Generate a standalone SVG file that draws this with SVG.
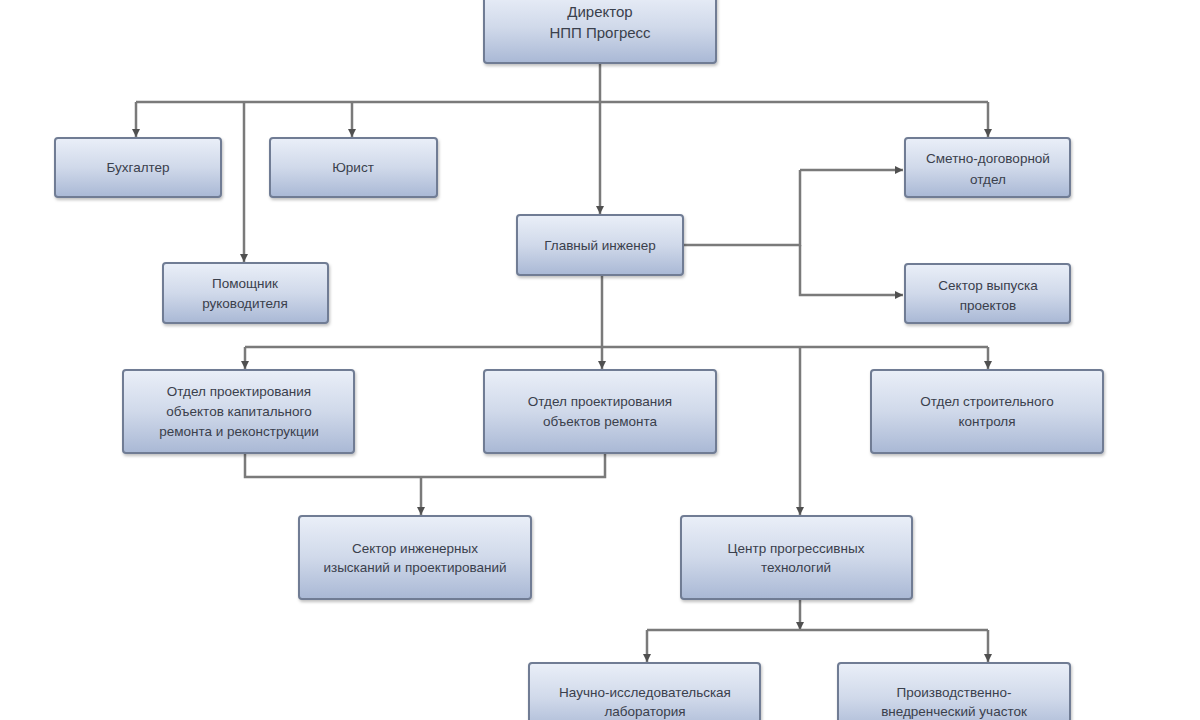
<svg xmlns="http://www.w3.org/2000/svg" width="1200" height="720" viewBox="0 0 1200 720">
<defs>
<linearGradient id="g" x1="0" y1="0" x2="0" y2="1">
<stop offset="0" stop-color="#eaeff8"/>
<stop offset="0.5" stop-color="#d0d9ea"/>
<stop offset="1" stop-color="#a9b8d5"/>
</linearGradient>
<filter id="sh" x="-10%" y="-10%" width="120%" height="130%">
<feDropShadow dx="1" dy="2" stdDeviation="1.5" flood-color="#000" flood-opacity="0.25"/>
</filter>
<marker id="ar" viewBox="0 0 10 10" refX="10" refY="5" markerWidth="8" markerHeight="8" markerUnits="userSpaceOnUse" orient="auto">
<path d="M0,0 L10,5 L0,10 z" fill="#505050"/>
</marker>
</defs>
<style>
.box{fill:url(#g);stroke:#6f7c94;stroke-width:2;filter:url(#sh)}
.t{font-family:"Liberation Sans",Arial,sans-serif;font-size:13.5px;fill:#3a404c;text-anchor:middle}
.big{font-size:15px}
.c{fill:none;stroke:#7a7a7a;stroke-width:2.5}
.a{marker-end:url(#ar)}
</style>
<rect width="1200" height="720" fill="#fff"/>
<g id="connectors">
<path class="c" d="M600,63 V102"/>
<path class="c" d="M136,102 H988"/>
<path class="c a" d="M136,102 V137"/>
<path class="c a" d="M352,102 V137"/>
<path class="c a" d="M988,102 V137"/>
<path class="c a" d="M244,102 V262"/>
<path class="c a" d="M600,102 V214"/>
<path class="c" d="M683,245 H800 V170"/>
<path class="c a" d="M800,170 H903"/>
<path class="c a" d="M800,245 V295 H903"/>
<path class="c" d="M602,275 V347"/>
<path class="c" d="M245,347 H988"/>
<path class="c a" d="M245,347 V369"/>
<path class="c a" d="M602,347 V369"/>
<path class="c a" d="M988,347 V369"/>
<path class="c a" d="M800,347 V515"/>
<path class="c" d="M245,453 V477 H605 V453"/>
<path class="c a" d="M421,477 V515"/>
<path class="c a" d="M800,599 V630"/>
<path class="c" d="M647,630 H988"/>
<path class="c a" d="M647,630 V662"/>
<path class="c a" d="M988,630 V662"/>
</g>
<g id="director"><rect class="box" x="484" y="-8" width="232" height="71" rx="3"/><text class="t big" x="600" y="17">Директор</text><text class="t big" x="600" y="38">НПП Прогресс</text></g>
<g id="buhgalter"><rect class="box" x="55" y="138" width="166" height="59" rx="3"/><text class="t" x="138" y="172">Бухгалтер</text></g>
<g id="yurist"><rect class="box" x="270" y="138" width="167" height="59" rx="3"/><text class="t" x="353" y="172">Юрист</text></g>
<g id="smetno"><rect class="box" x="905" y="138" width="165" height="59" rx="3"/><text class="t" x="988" y="163">Сметно-договорной</text><text class="t" x="988" y="184">отдел</text></g>
<g id="glavniy"><rect class="box" x="517" y="215" width="166" height="60" rx="3"/><text class="t" x="600" y="250">Главный инженер</text></g>
<g id="pomoshnik"><rect class="box" x="163" y="263" width="165" height="60" rx="3"/><text class="t" x="245" y="288">Помощник</text><text class="t" x="245" y="308">руководителя</text></g>
<g id="vypusk"><rect class="box" x="905" y="264" width="165" height="59" rx="3"/><text class="t" x="988" y="290">Сектор выпуска</text><text class="t" x="988" y="310">проектов</text></g>
<g id="otdel1"><rect class="box" x="123" y="370" width="231" height="83" rx="3"/><text class="t" x="239" y="396">Отдел проектирования</text><text class="t" x="239" y="416">объектов капитального</text><text class="t" x="239" y="436">ремонта и реконструкции</text></g>
<g id="otdel2"><rect class="box" x="484" y="370" width="232" height="83" rx="3"/><text class="t" x="600" y="406">Отдел проектирования</text><text class="t" x="600" y="426">объектов ремонта</text></g>
<g id="otdel3"><rect class="box" x="871" y="370" width="232" height="83" rx="3"/><text class="t" x="987" y="406">Отдел строительного</text><text class="t" x="987" y="426">контроля</text></g>
<g id="sektor"><rect class="box" x="299" y="516" width="232" height="83" rx="3"/><text class="t" x="415" y="553">Сектор инженерных</text><text class="t" x="415" y="572">изысканий и проектирований</text></g>
<g id="centr"><rect class="box" x="681" y="516" width="231" height="83" rx="3"/><text class="t" x="796" y="553">Центр прогрессивных</text><text class="t" x="796" y="572">технологий</text></g>
<g id="nil"><rect class="box" x="529" y="663" width="231" height="70" rx="3"/><text class="t" x="645" y="697">Научно-исследовательская</text><text class="t" x="645" y="716">лаборатория</text></g>
<g id="pvu"><rect class="box" x="838" y="663" width="232" height="70" rx="3"/><text class="t" x="954" y="697">Производственно-</text><text class="t" x="954" y="716">внедренческий участок</text></g>
</svg>
